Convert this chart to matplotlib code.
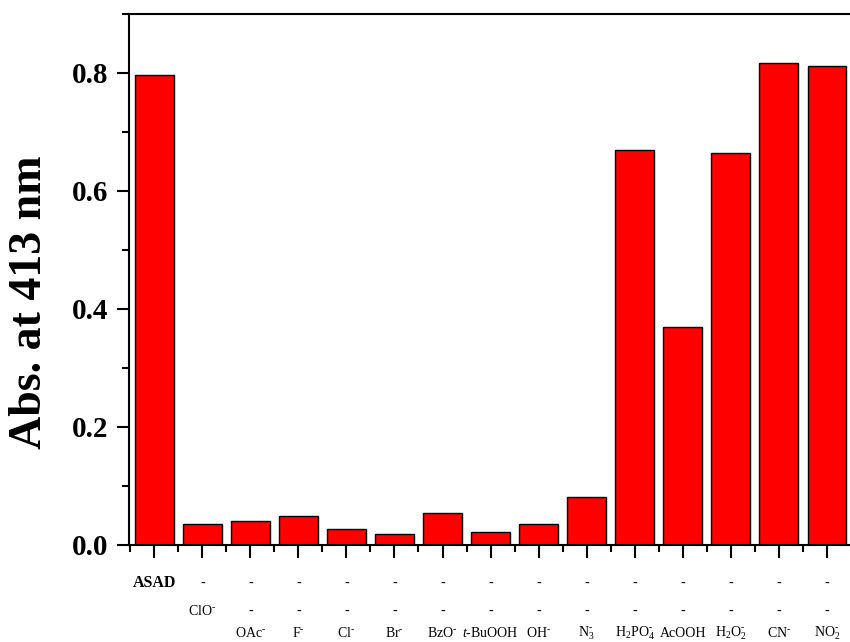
import matplotlib
matplotlib.use("Agg")
import matplotlib.pyplot as plt
from matplotlib.ticker import MultipleLocator, FormatStrFormatter

plt.rcParams['font.family'] = ['Liberation Serif', 'DejaVu Serif']
plt.rcParams['mathtext.fontset'] = 'custom'
plt.rcParams['mathtext.rm'] = 'Liberation Serif'
plt.rcParams['mathtext.it'] = 'Liberation Serif:italic'
plt.rcParams['mathtext.bf'] = 'Liberation Serif:bold'

# absorbance at 413 nm for ASAD and ASAD + each analyte
samples = ['ASAD', 'ClO-', 'OAc-', 'F-', 'Cl-', 'Br-', 'BzO-', 't-BuOOH',
           'OH-', 'N3-', 'H2PO4-', 'AcOOH', 'H2O2-', 'CN-', 'NO2-']
absorb = [0.796, 0.036, 0.041, 0.049, 0.027, 0.019, 0.054, 0.022,
          0.036, 0.081, 0.669, 0.369, 0.664, 0.817, 0.812]

# three label rows under the axis
M = r'^{\text{-}}'
row1 = ['ASAD'] + ['-'] * 14
row2 = ['', r'ClO$' + M + '$'] + ['-'] * 13
row3 = ['', '', r'OAc$' + M + '$', r'F$' + M + '$', r'Cl$' + M + '$',
        r'Br$' + M + '$', r'BzO$' + M + '$', r'$\mathit{t}$-BuOOH',
        r'OH$' + M + '$', r'N$_{3}' + M + '$', r'H$_{2}$PO$_{4}' + M + '$',
        'AcOOH', r'H$_{2}$O$_{2}' + M + '$', r'CN$' + M + '$',
        r'NO$_{2}' + M + '$']

fig = plt.figure(figsize=(8.5, 6.42), dpi=100)
ax = fig.add_axes([0.1518, 0.1511, 0.8506, 0.8271])

x = list(range(len(samples)))
ax.bar(x, absorb, width=0.8, color='#ff0000', edgecolor='black', linewidth=1.0)

ax.set_xlim(-0.527, 14.527)
ax.set_ylim(0, 0.9)

ax.yaxis.set_major_locator(MultipleLocator(0.2))
ax.yaxis.set_minor_locator(MultipleLocator(0.1))
ax.yaxis.set_major_formatter(FormatStrFormatter('%.1f'))
ax.set_xticks(x)
ax.set_xticks([i + 0.5 for i in range(-1, len(samples))], minor=True)
ax.set_xticklabels([])

ax.tick_params(axis='both', which='major', direction='out', length=9, width=1.5)
ax.tick_params(axis='both', which='minor', direction='out', length=5, width=1.5)
ax.tick_params(axis='y', labelsize=21, pad=6)
for lab in ax.get_yticklabels():
    lab.set_fontweight('bold')

for sp in ax.spines.values():
    sp.set_linewidth(1.5)

fig.text(30 / 850, 1 - 302 / 642, 'Abs. at 413 nm', rotation=90,
         ha='center', va='center', fontsize=33, fontweight='bold')

tr = ax.get_xaxis_transform()
for i in x:
    ax.text(i, -0.079, row1[i], transform=tr, ha='center', va='baseline',
            fontsize=11.5 if i == 0 else 10,
            fontweight='bold' if i == 0 else 'normal')
    ax.text(i, -0.132, row2[i], transform=tr, ha='center', va='baseline', fontsize=10)
    ax.text(i, -0.173, row3[i], transform=tr, ha='center', va='baseline', fontsize=10)

fig.savefig('out.png', dpi=100)
